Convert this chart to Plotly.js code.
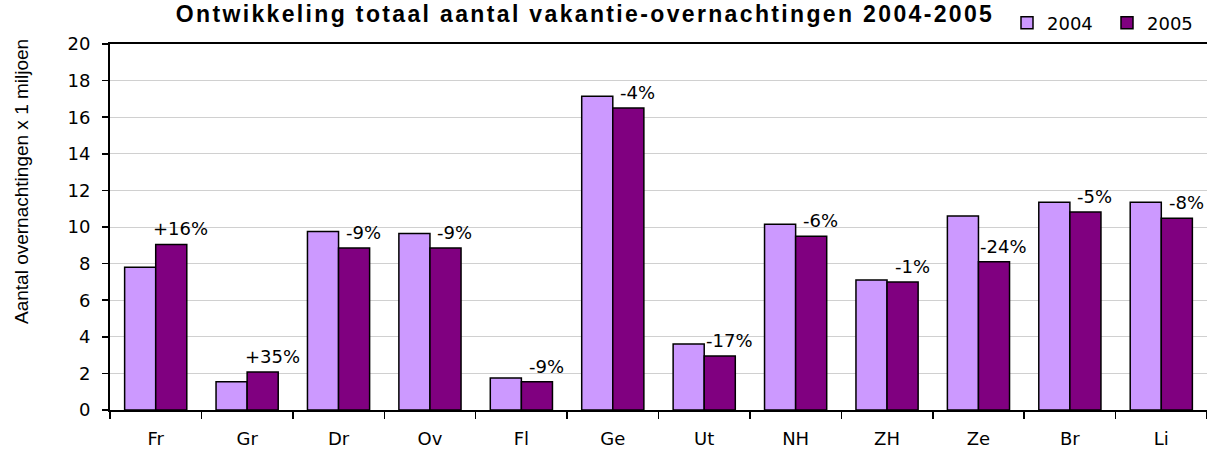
<!DOCTYPE html>
<html>
<head>
<meta charset="utf-8">
<script src="https://cdn.plot.ly/plotly-3.0.1.min.js"></script>
<style>
  html, body { margin: 0; padding: 0; background: #fff; }
  #chart { width: 1207px; height: 450px; }
  .gtitle { letter-spacing: 2.35px; }
</style>
</head>
<body>
<div id="chart"></div>
<script>
// Data
const categories = ['Fr', 'Gr', 'Dr', 'Ov', 'Fl', 'Ge', 'Ut', 'NH', 'ZH', 'Ze', 'Br', 'Li'];
const values2004 = [7.8, 1.55, 9.75, 9.65, 1.75, 17.15, 3.6, 10.15, 7.1, 10.6, 11.35, 11.35];
const values2005 = [9.05, 2.08, 8.85, 8.85, 1.55, 16.5, 2.95, 9.5, 7.0, 8.1, 10.82, 10.48];
const changeLabels = ['+16%', '+35%', '-9%', '-9%', '-9%', '-4%', '-17%', '-6%', '-1%', '-24%', '-5%', '-8%'];
const yTicks = [0, 2, 4, 6, 8, 10, 12, 14, 16, 18, 20];

const tickFont = { family: 'DejaVu Sans, Verdana, sans-serif', size: 18, color: '#000' };

const traces = [
  {
    type: 'bar', name: '2004', x: categories, y: values2004,
    marker: { color: '#CC99FF', line: { color: '#000', width: 1.5 } },
    hoverinfo: 'x+y'
  },
  {
    type: 'bar', name: '2005', x: categories, y: values2005,
    marker: { color: '#800080', line: { color: '#000', width: 1.5 } },
    hoverinfo: 'x+y'
  }
];

const annotations = categories.map((c, i) => ({
  x: c, y: values2005[i], xref: 'x', yref: 'y',
  text: changeLabels[i], showarrow: false,
  xanchor: 'center', yanchor: 'bottom',
  xshift: 25, yshift: 3,
  font: tickFont
}));

annotations.push({
  xref: 'paper', yref: 'paper', x: -0.0802, y: 0.623,
  text: 'Aantal overnachtingen x 1 miljoen', showarrow: false,
  textangle: -90, xanchor: 'center', yanchor: 'middle',
  font: { family: 'Liberation Sans, Arial, sans-serif', size: 19, color: '#000' }
});

const layout = {
  width: 1207, height: 450,
  margin: { l: 110, r: 0, t: 44, b: 40, pad: 0 },
  paper_bgcolor: '#fff', plot_bgcolor: '#fff',
  title: {
    text: 'Ontwikkeling totaal aantal vakantie-overnachtingen 2004-2005',
    font: { family: 'Liberation Sans, Arial, sans-serif', size: 23, weight: 'bold', color: '#000' },
    xref: 'container', yref: 'container',
    x: 0.4847, xanchor: 'center', y: 1 - 13.5 / 450, yanchor: 'middle'
  },
  barmode: 'group', bargap: 0.32, bargroupgap: 0,
  showlegend: true,
  legend: {
    orientation: 'h', x: 1, xanchor: 'right', y: 1.0574, yanchor: 'middle',
    font: tickFont, bgcolor: 'rgba(0,0,0,0)', borderwidth: 0,
    traceorder: 'normal', entrywidth: 55
  },
  xaxis: {
    type: 'category', showline: true, linecolor: '#000', linewidth: 2, mirror: true,
    ticks: 'outside', tickson: 'boundaries', ticklen: 7, tickwidth: 1.5, tickcolor: '#000',
    tickfont: tickFont, ticklabelstandoff: 11, showgrid: false, zeroline: false
  },
  yaxis: {
    range: [0, 20], tickvals: yTicks, ticktext: yTicks.map(String),
    showline: true, linecolor: '#000', linewidth: 2,
    ticks: 'outside', ticklen: 6, tickwidth: 1.5, tickcolor: '#000',
    tickfont: tickFont, ticklabelstandoff: 8,
    showgrid: true, gridcolor: '#D0D0D0', gridwidth: 1, zeroline: false
  },
  annotations: annotations
};

Plotly.newPlot('chart', traces, layout, { displayModeBar: false, staticPlot: true });
</script>
</body>
</html>
